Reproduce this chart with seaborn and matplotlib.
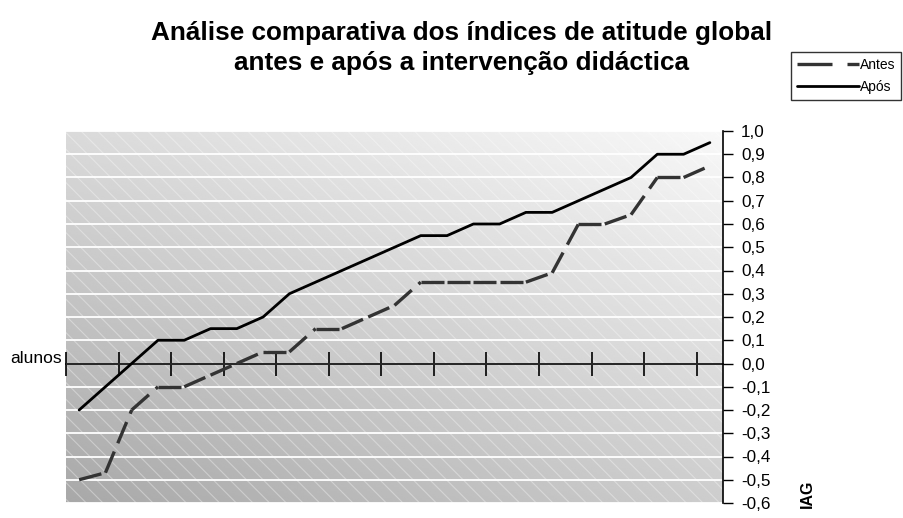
import numpy as np
import pandas as pd
import matplotlib
matplotlib.use("Agg")
import matplotlib.pyplot as plt
import seaborn as sns
from matplotlib.lines import Line2D
from matplotlib.patches import Rectangle
from matplotlib.ticker import FuncFormatter

# ---- data ----
alunos = list(range(1, 26))
antes = [-0.50, -0.47, -0.20, -0.10, -0.10, -0.05, 0.00, 0.05, 0.05, 0.15,
         0.15, 0.20, 0.25, 0.35, 0.35, 0.35, 0.35, 0.35, 0.39, 0.60,
         0.60, 0.64, 0.80, 0.80, 0.85]
apos = [-0.20, -0.10, 0.00, 0.10, 0.10, 0.15, 0.15, 0.20, 0.30, 0.35,
        0.40, 0.45, 0.50, 0.55, 0.55, 0.60, 0.60, 0.65, 0.65, 0.70,
        0.75, 0.80, 0.90, 0.90, 0.95]
y_ticks = [-0.6, -0.5, -0.4, -0.3, -0.2, -0.1, 0.0, 0.1, 0.2, 0.3,
           0.4, 0.5, 0.6, 0.7, 0.8, 0.9, 1.0]
x_ticks = [0.5, 2.5, 4.5, 6.5, 8.5, 10.5, 12.5, 14.5, 16.5, 18.5, 20.5, 22.5, 24.5]
series_names = ["Antes", "Após"]
title = "Análise comparativa dos índices de atitude global\nantes e após a intervenção didáctica"

sns.set_style("white")
plt.rcParams["font.family"] = ["Liberation Sans", "DejaVu Sans"]
plt.rcParams["text.color"] = "black"
plt.rcParams["hatch.linewidth"] = 0.8

fig = plt.figure(figsize=(9.04, 5.18), dpi=100)
ax = fig.add_axes([66 / 904, 15 / 518, 657 / 904, 372 / 518])

# background: diagonal gradient + light diagonal hatch
tl, tr, bl, br = 218, 248, 168, 205
u = np.linspace(0, 1, 200)
U, V = np.meshgrid(u, u)
grad = (tl * (1 - U) * (1 - V) + tr * U * (1 - V) + bl * (1 - U) * V + br * U * V) / 255
ax.imshow(grad, cmap="gray", vmin=0, vmax=1, extent=[0, 1, 0, 1],
          transform=ax.transAxes, aspect="auto", zorder=0, interpolation="bilinear")
ax.add_patch(Rectangle((0, 0), 1, 1, transform=ax.transAxes, facecolor="none",
                       edgecolor=(1, 1, 1, 0.35), linewidth=0, hatch="\\\\", zorder=0.3))

# Após: solid line
df_apos = pd.DataFrame({"aluno": alunos, "IAG": apos})
sns.lineplot(data=df_apos, x="aluno", y="IAG", color="black", linewidth=2.0,
             ax=ax, zorder=3)
n_before = len(ax.lines)

# Antes: dashed line, dash pattern restarting on each segment
seg_x, seg_y, seg_id = [], [], []
for i in range(len(alunos) - 1):
    seg_x += [alunos[i], alunos[i + 1]]
    seg_y += [antes[i], antes[i + 1]]
    seg_id += [i, i]
df_antes = pd.DataFrame({"aluno": seg_x, "IAG": seg_y, "seg": seg_id})
sns.lineplot(data=df_antes, x="aluno", y="IAG", units="seg", estimator=None,
             color="#333333", linewidth=2.4, ax=ax, zorder=3)
for ln in ax.lines[n_before:]:
    ln.set_dashes((6.9, 2.7))
    ln.set_dash_capstyle("butt")

ax.set_xlim(0.5, 25.5)
ax.set_ylim(-0.6, 1.0)
ax.set_xlabel("")
ax.set_ylabel("")

for s in ["left", "top"]:
    ax.spines[s].set_visible(False)
ax.spines["bottom"].set_position(("data", 0))
ax.spines["bottom"].set_color("black")
ax.spines["bottom"].set_linewidth(1.2)
ax.spines["right"].set_color("black")
ax.spines["right"].set_linewidth(1.2)

ax.yaxis.tick_right()
ax.set_yticks(y_ticks)
ax.yaxis.set_major_formatter(FuncFormatter(lambda v, p: f"{v:.1f}".replace(".", ",").replace("-0,0", "0,0")))
ax.tick_params(axis="y", right=True, left=False, direction="out", length=7, width=1,
               pad=6, labelsize=12.3, colors="black")
ax.set_xticks(x_ticks)
ax.tick_params(axis="x", bottom=True, top=False, direction="inout", length=17,
               width=1.2, labelbottom=False, colors="black")
ax.yaxis.grid(True, color="white", linewidth=1.3)
ax.xaxis.grid(False)
ax.set_axisbelow("line")

# texts
fig.text(462 / 904, 1 - 48 / 518, title, ha="center", va="center", color="black",
         fontsize=18.8, fontweight="bold", linespacing=1.28)
fig.text(62 / 904, 1 - 363 / 518, "alunos", ha="right", va="baseline",
         color="black", fontsize=12.5)
fig.text(807 / 904, 1 - 494 / 518, "IAG", rotation=90, ha="center", va="center",
         color="black", fontsize=11.5, fontweight="bold")

handles = [Line2D([], [], color="#333333", lw=2.4, dashes=(10.5, 4.5)),
           Line2D([], [], color="black", lw=2.0)]
leg = fig.legend(handles, series_names, loc="lower left",
                 bbox_to_anchor=(791 / 904, 1 - 99.5 / 518), frameon=True,
                 fancybox=False, edgecolor="black", fontsize=10, handlelength=4.5,
                 handletextpad=0.05, borderpad=0.4, labelspacing=0.6,
                 borderaxespad=0)
leg.get_frame().set_linewidth(1)
for t in leg.get_texts():
    t.set_color("black")

fig.savefig("out.png", dpi=100, facecolor="white")
